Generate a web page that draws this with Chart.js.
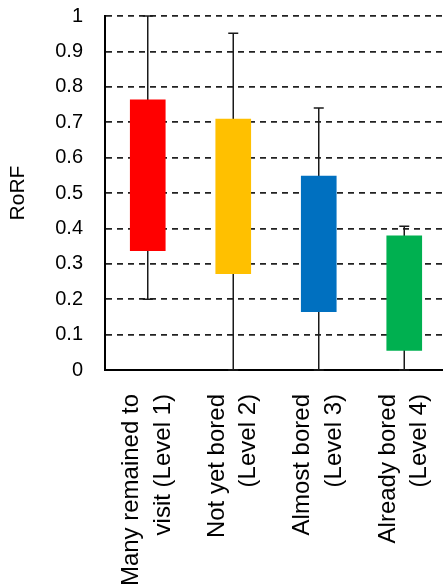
<!DOCTYPE html>
<html>
<head>
<meta charset="utf-8">
<script src="https://cdn.jsdelivr.net/npm/chart.js@4.4.0/dist/chart.umd.min.js"></script>
<style>
  html, body { margin: 0; padding: 0; background: #fff; overflow: hidden; }
  #chart { display: block; }
</style>
</head>
<body>
<canvas id="chart" width="447" height="587"></canvas>
<script>
// categories (two lines each)
const categories = [
    ['Many remained to', 'visit (Level 1)'],
    ['Not yet bored', '(Level 2)'],
    ['Almost bored', '(Level 3)'],
    ['Already bored', '(Level 4)']
];
// box = interquartile range, whiskers = min / max
const boxLow = [0.337, 0.272, 0.165, 0.055];
const boxHigh = [0.763, 0.709, 0.548, 0.379];
const whiskerLow = [0.2, 0, 0, 0];
const whiskerHigh = [1.0, 0.951, 0.74, 0.406];
const barColors = ['#FF0000', '#FFC000', '#0070C0', '#00B050'];

const whiskers = {
    id: 'whiskers',
    beforeDatasetsDraw(chart) {
        const ctx = chart.ctx;
        const x = chart.scales.x;
        const y = chart.scales.y;
        ctx.save();
        ctx.strokeStyle = '#1a1a1a';
        ctx.lineWidth = 1.5;
        whiskerLow.forEach((lo, i) => {
            const cx = x.getPixelForValue(i);
            const yLo = y.getPixelForValue(lo);
            const yHi = y.getPixelForValue(whiskerHigh[i]);
            ctx.beginPath();
            ctx.moveTo(cx, yLo);
            ctx.lineTo(cx, yHi);
            ctx.moveTo(cx - 5, yLo);
            ctx.lineTo(cx + 5, yLo);
            ctx.moveTo(cx - 5, yHi);
            ctx.lineTo(cx + 5, yHi);
            ctx.stroke();
        });
        ctx.restore();
    }
};

const ctx = document.getElementById('chart').getContext('2d');
new Chart(ctx, {
    type: 'bar',
    data: {
        labels: categories,
        datasets: [{
            data: boxLow.map((lo, i) => [lo, boxHigh[i]]),
            backgroundColor: barColors,
            borderWidth: 0,
            barThickness: 35
        }]
    },
    options: {
        responsive: false,
        animation: false,
        devicePixelRatio: 1,
        layout: { padding: { top: 16, left: 0, right: 0, bottom: 0 } },
        plugins: {
            legend: { display: false },
            tooltip: { enabled: false }
        },
        scales: {
            x: {
                grid: { display: false },
                border: { display: true, color: '#000', width: 2 },
                ticks: {
                    color: '#000',
                    font: { family: 'Liberation Sans', size: 24, lineHeight: 1.3 },
                    minRotation: 90,
                    maxRotation: 90,
                    padding: 16,
                    labelOffset: -16,
                    autoSkip: false
                },
                afterFit(scale) {
                    scale.height = 217;
                    scale.paddingLeft = 0;
                    scale.paddingRight = 0;
                }
            },
            y: {
                min: 0,
                max: 1,
                ticks: {
                    stepSize: 0.1,
                    color: '#000',
                    font: { family: 'Liberation Sans', size: 20 },
                    padding: 22,
                    callback: (v) => String(Math.round(v * 10) / 10)
                },
                grid: { color: '#222', lineWidth: 1.75, drawTicks: false },
                border: { display: true, color: '#000', width: 2, dash: [6, 5] },
                title: {
                    display: true,
                    text: 'RoRF',
                    color: '#000',
                    font: { family: 'Liberation Sans', size: 21 },
                    padding: { top: 6, bottom: 0 }
                },
                afterFit(scale) {
                    scale.width = 105;
                    scale.paddingTop = 0;
                    scale.paddingBottom = 0;
                }
            }
        }
    },
    plugins: [whiskers]
});
</script>
</body>
</html>
